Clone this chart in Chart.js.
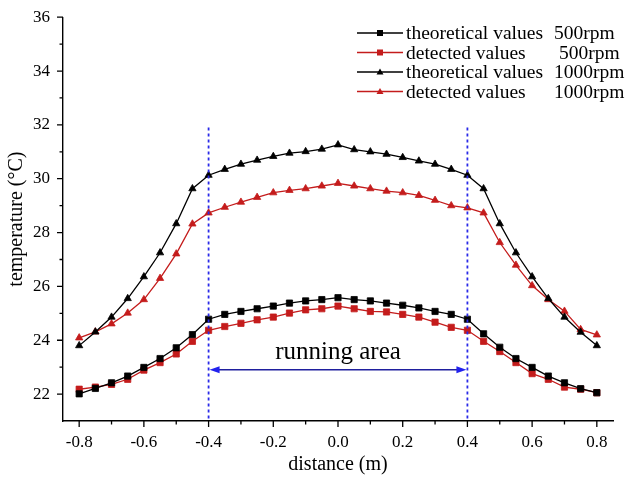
<!DOCTYPE html>
<html lang="en">
<head>
<meta charset="UTF-8">
<title>Temperature distribution</title>
<style>
  * { margin: 0; padding: 0; box-sizing: border-box; }
  body { background: #fff; }
  .wrap { width: 630px; height: 488px; position: relative; }
</style>
</head>
<body>
<div class="wrap"><canvas id="tempChart"></canvas></div>

<script src="https://cdn.jsdelivr.net/npm/chart.js"></script>
<script>
// distance along the roller (m)
const distance = [-0.8, -0.75, -0.7, -0.65, -0.6, -0.55, -0.5, -0.45, -0.4, -0.35, -0.3,
    -0.25, -0.2, -0.15, -0.1, -0.05, 0, 0.05, 0.1, 0.15, 0.2, 0.25, 0.3, 0.35, 0.4,
    0.45, 0.5, 0.55, 0.6, 0.65, 0.7, 0.75, 0.8];

const theo500 = [22.01, 22.21, 22.42, 22.67, 22.99, 23.32, 23.72, 24.21, 24.78,
    24.96, 25.07, 25.17, 25.27, 25.38, 25.46, 25.51, 25.58,
    25.51, 25.46, 25.38, 25.30, 25.20, 25.07, 24.96,
    24.78, 24.24, 23.74, 23.32, 22.99, 22.67, 22.42, 22.20, 22.05];
const det500 = [22.18, 22.26, 22.36, 22.55, 22.89, 23.17, 23.49, 23.96, 24.37,
    24.51, 24.63, 24.76, 24.86, 25.01, 25.13, 25.17, 25.27,
    25.17, 25.07, 25.05, 24.96, 24.86, 24.67, 24.48,
    24.37, 23.96, 23.58, 23.17, 22.76, 22.55, 22.26, 22.18, 22.05];
const theo1000 = [23.80, 24.31, 24.86, 25.55, 26.36, 27.25, 28.33, 29.63, 30.13,
    30.35, 30.54, 30.69, 30.83, 30.95, 31.01, 31.10, 31.26,
    31.08, 31.00, 30.91, 30.79, 30.66, 30.54, 30.35,
    30.13, 29.63, 28.33, 27.25, 26.36, 25.55, 24.86, 24.30, 23.80];
const det1000 = [24.09, 24.31, 24.61, 25.01, 25.51, 26.30, 27.21, 28.32, 28.73,
    28.94, 29.13, 29.31, 29.48, 29.57, 29.63, 29.73, 29.83,
    29.73, 29.63, 29.54, 29.48, 29.38, 29.20, 29.00,
    28.92, 28.73, 27.63, 26.79, 26.03, 25.51, 25.08, 24.40, 24.20];

const seriesNames = ['theoretical values', 'detected values', 'theoretical values', 'detected values'];
const seriesSpeeds = ['500rpm', '500rpm', '1000rpm', '1000rpm'];

const xMajorTicks = [-0.8, -0.6, -0.4, -0.2, 0, 0.2, 0.4, 0.6, 0.8];
const xMinorTicks = [-0.7, -0.5, -0.3, -0.1, 0.1, 0.3, 0.5, 0.7];
const yMajorTicks = [22, 24, 26, 28, 30, 32, 34, 36];
const yMinorTicks = [23, 25, 27, 29, 31, 33, 35];

// running area marks
const runBounds = [-0.4, 0.4];
const runTopTemp = 31.9;
const arrowTemp = 22.9;
const runLabelTemp = 23.3;
const runLabel = 'running area';

const BLACK = '#000000';
const RED = '#c41c1c';
const FONT = "'Liberation Serif', 'Times New Roman', serif";

function pts(values) {
    return distance.map((d, i) => ({ x: d, y: values[i] }));
}

function makeSet(label, values, color, style) {
    return {
        label: label,
        data: pts(values),
        borderColor: color,
        backgroundColor: color,
        borderWidth: 1.3,
        pointStyle: style,
        pointRadius: style === 'rect' ? 4.4 : 4.2,
        pointBorderWidth: 0.8,
        tension: 0
    };
}

// ticks drawn by hand so that minor ones can be shorter
const axisTicks = {
    id: 'axisTicks',
    afterDraw(chart) {
        const { ctx, scales: { x, y } } = chart;
        ctx.save();
        ctx.strokeStyle = BLACK;
        ctx.lineWidth = 1.3;
        ctx.beginPath();
        [[xMajorTicks, 6], [xMinorTicks, 3.5]].forEach(([vals, len]) => {
            vals.forEach(v => {
                const px = x.getPixelForValue(v);
                ctx.moveTo(px, y.bottom);
                ctx.lineTo(px, y.bottom + len);
            });
        });
        [[yMajorTicks, 6], [yMinorTicks, 3.5]].forEach(([vals, len]) => {
            vals.forEach(v => {
                const py = y.getPixelForValue(v);
                ctx.moveTo(x.left, py);
                ctx.lineTo(x.left - len, py);
            });
        });
        ctx.stroke();
        ctx.restore();
    }
};

const runningArea = {
    id: 'runningArea',
    afterDatasetsDraw(chart) {
        const { ctx, scales: { x, y } } = chart;
        const x0 = x.getPixelForValue(runBounds[0]);
        const x1 = x.getPixelForValue(runBounds[1]);
        const top = y.getPixelForValue(runTopTemp);
        const ay = y.getPixelForValue(arrowTemp);
        ctx.save();
        // dashed bounds
        ctx.strokeStyle = '#2a2ae8';
        ctx.lineWidth = 1.8;
        ctx.setLineDash([3, 3]);
        ctx.beginPath();
        [x0, x1].forEach(px => {
            ctx.moveTo(px, top);
            ctx.lineTo(px, y.bottom);
        });
        ctx.stroke();
        ctx.setLineDash([]);
        // double arrow
        ctx.strokeStyle = '#1f1f9e';
        ctx.lineWidth = 1.5;
        ctx.beginPath();
        ctx.moveTo(x0 + 8, ay);
        ctx.lineTo(x1 - 8, ay);
        ctx.stroke();
        ctx.fillStyle = '#2222ee';
        ctx.beginPath();
        ctx.moveTo(x0 + 1, ay);
        ctx.lineTo(x0 + 11, ay - 3.5);
        ctx.lineTo(x0 + 11, ay + 3.5);
        ctx.closePath();
        ctx.moveTo(x1 - 1, ay);
        ctx.lineTo(x1 - 11, ay - 3.5);
        ctx.lineTo(x1 - 11, ay + 3.5);
        ctx.closePath();
        ctx.fill();
        // label
        ctx.fillStyle = BLACK;
        ctx.font = '25px ' + FONT;
        ctx.textAlign = 'center';
        ctx.textBaseline = 'alphabetic';
        ctx.fillText(runLabel, x.getPixelForValue(0), y.getPixelForValue(runLabelTemp));
        ctx.restore();
    }
};

const legendBox = {
    id: 'legendBox',
    afterDraw(chart) {
        const { ctx } = chart;
        const rowY = [33, 52.5, 72, 91.5];
        const speedX = [554, 559, 554, 554];
        ctx.save();
        ctx.font = '19.5px ' + FONT;
        ctx.textBaseline = 'middle';
        ctx.textAlign = 'left';
        chart.data.datasets.forEach((ds, i) => {
            const yy = rowY[i];
            ctx.strokeStyle = ds.borderColor;
            ctx.lineWidth = 1.5;
            ctx.beginPath();
            ctx.moveTo(357, yy);
            ctx.lineTo(403, yy);
            ctx.stroke();
            ctx.fillStyle = ds.borderColor;
            if (ds.pointStyle === 'rect') {
                ctx.fillRect(377, yy - 3, 6, 6);
            } else {
                ctx.beginPath();
                ctx.moveTo(380, yy - 3.5);
                ctx.lineTo(383.5, yy + 2.5);
                ctx.lineTo(376.5, yy + 2.5);
                ctx.closePath();
                ctx.fill();
            }
            ctx.fillStyle = BLACK;
            ctx.fillText(seriesNames[i], 406, yy + 1);
            ctx.fillText(seriesSpeeds[i], speedX[i], yy + 1);
        });
        ctx.restore();
    }
};

const ctxTemp = document.getElementById('tempChart').getContext('2d');
const tempChart = new Chart(ctxTemp, {
    type: 'line',
    data: {
        datasets: [
            makeSet('theoretical values 500rpm', theo500, BLACK, 'rect'),
            makeSet('detected values 500rpm', det500, RED, 'rect'),
            makeSet('theoretical values 1000rpm', theo1000, BLACK, 'triangle'),
            makeSet('detected values 1000rpm', det1000, RED, 'triangle')
        ]
    },
    options: {
        responsive: true,
        maintainAspectRatio: false,
        animation: false,
        layout: { padding: { top: 17, right: 17, left: 0, bottom: 0 } },
        plugins: {
            legend: { display: false },
            tooltip: { enabled: false }
        },
        scales: {
            x: {
                type: 'linear',
                min: -0.85,
                max: 0.85,
                afterFit: s => { s.height = 67; },
                afterBuildTicks: s => {
                    s.ticks = xMajorTicks.map(v => ({ value: v }));
                },
                grid: { drawOnChartArea: false, tickLength: 6, tickColor: 'rgba(0,0,0,0)' },
                border: { color: BLACK, width: 1.4 },
                ticks: {
                    autoSkip: false,
                    maxRotation: 0,
                    padding: 5,
                    color: BLACK,
                    font: { family: FONT, size: 17 },
                    callback: v => v.toFixed(1)
                },
                title: {
                    display: true,
                    text: 'distance (m)',
                    color: BLACK,
                    font: { family: FONT, size: 20 },
                    padding: { top: 0, bottom: 11 }
                }
            },
            y: {
                min: 21,
                max: 36,
                afterFit: s => { s.width = 63; },
                afterBuildTicks: s => {
                    s.ticks = yMajorTicks.map(v => ({ value: v }));
                },
                grid: { drawOnChartArea: false, tickLength: 6, tickColor: 'rgba(0,0,0,0)' },
                border: { color: BLACK, width: 1.4 },
                ticks: {
                    autoSkip: false,
                    padding: 7,
                    color: BLACK,
                    font: { family: FONT, size: 17 },
                    callback: v => String(v)
                },
                title: {
                    display: true,
                    text: 'temperature (°C)',
                    color: BLACK,
                    font: { family: FONT, size: 20 },
                    padding: { top: 5, bottom: 0 }
                }
            }
        }
    },
    plugins: [axisTicks, runningArea, legendBox]
});
</script>
</body>
</html>
